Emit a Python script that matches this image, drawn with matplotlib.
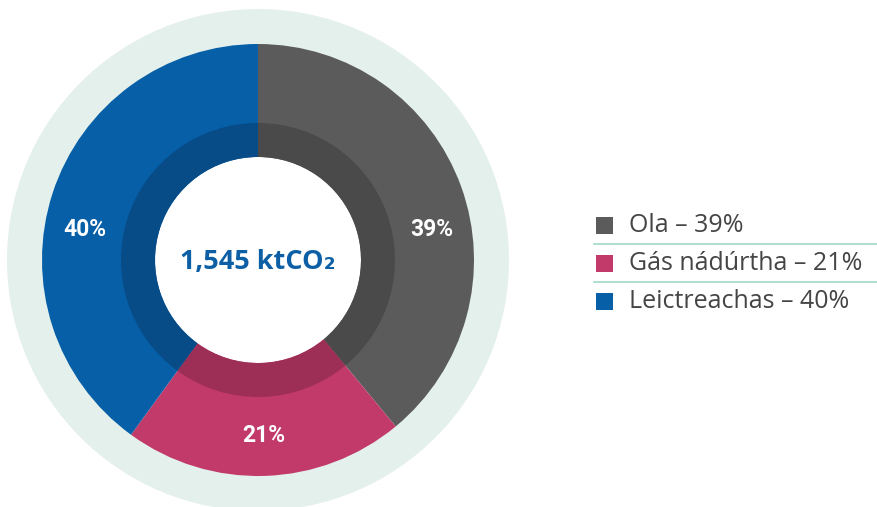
import matplotlib
matplotlib.use("Agg")
import matplotlib.pyplot as plt
from matplotlib.patches import Wedge, Rectangle
import numpy as np

categories = ["Ola", "Gás nádúrtha", "Leictreachas"]
values = [39, 21, 40]
pct_labels = ["39%", "21%", "40%"]
total_label = "1,545 ktCO\u2082"

colors = ["#5b5b5b", "#c13a6a", "#065fa7"]
dark_colors = ["#4a4a4a", "#9d2e56", "#074b87"]

W, H = 877, 507
fig = plt.figure(figsize=(W / 100, H / 100), dpi=100)
ax = fig.add_axes([0, 0, 1, 1])
ax.set_xlim(0, W)
ax.set_ylim(0, H)
ax.set_aspect("equal")
ax.axis("off")

cx, cy = 258, H - 260
R_bg, R_out, R_band, R_in = 251, 216, 137, 103

ax.add_patch(Wedge((cx, cy), R_bg, 0, 360, width=R_bg - R_out + 2,
                   facecolor="#e4f0eb", edgecolor="none"))

ax.pie(values, colors=colors, radius=R_out, center=(cx, cy), startangle=90,
       counterclock=False, wedgeprops=dict(width=R_out - R_in, linewidth=0))
ax.pie(values, colors=dark_colors, radius=R_band, center=(cx, cy), startangle=90,
       counterclock=False, wedgeprops=dict(width=R_band - R_in, linewidth=0))
ax.set_xlim(0, W)
ax.set_ylim(0, H)

# percentage labels (angles measured clockwise from top)
label_angles = [80, 178, 280]
label_r = 176
for lab, a in zip(pct_labels, label_angles):
    t = np.deg2rad(a)
    ax.text(cx + label_r * np.sin(t), cy + label_r * np.cos(t), lab,
            ha="center", va="center", color="white", fontsize=16.5,
            fontweight="bold", family=["Roboto", "DejaVu Sans"])

ax.text(cx, cy - 2, total_label, ha="center", va="center", color="#0d5fa5",
        fontsize=19.5, fontweight="bold", family=["Open Sans", "DejaVu Sans"])

# legend
leg_x, leg_y0, leg_dy = 596, H - 225, 38
for i, (c, cat, v) in enumerate(zip(colors, categories, values)):
    y = leg_y0 - i * leg_dy
    ax.add_patch(Rectangle((leg_x, y - 8.5), 17, 17, facecolor=c, edgecolor="none"))
    ax.text(leg_x + 33, y, f"{cat} \u2013 {v}%", ha="left", va="center",
            color="#454545", fontsize=18, family=["Open Sans", "DejaVu Sans"])
    if i < len(values) - 1:
        ax.plot([leg_x - 2, W], [y - leg_dy / 2, y - leg_dy / 2],
                color="#a9dcc9", linewidth=1.3)

fig.savefig("out.png", dpi=100)
